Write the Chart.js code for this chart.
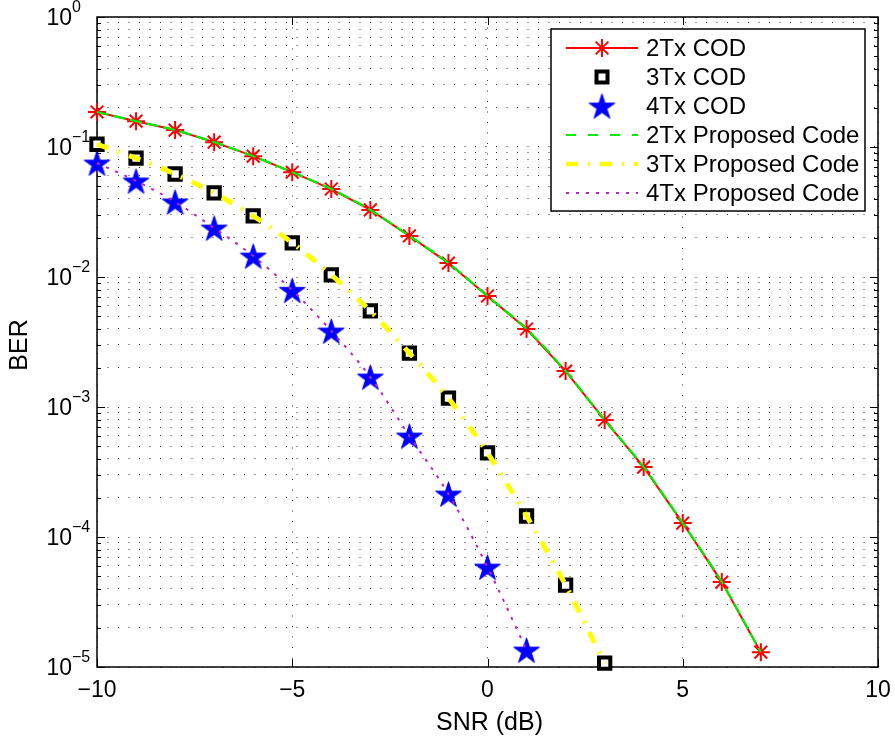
<!DOCTYPE html>
<html>
<head>
<meta charset="utf-8">
<script src="https://cdn.jsdelivr.net/npm/chart.js"></script>
<style>
  body { margin: 0; background: #fff; }
  #wrap { width: 895px; height: 745px; }
</style>
</head>
<body>
<div id="wrap"><canvas id="berChart" width="895" height="745"></canvas></div>
<script>
// values
const snr2 = [-10, -9, -8, -7, -6, -5, -4, -3, -2, -1, 0, 1, 2, 3, 4, 5, 6, 7];
const ber2 = [0.186, 0.158, 0.135, 0.109, 0.085, 0.064, 0.0475, 0.0328, 0.0207, 0.0128,
              0.00714, 0.00398, 0.00189, 0.000794, 0.000345, 0.000128, 4.5e-5, 1.3e-5];
const snr3 = [-10, -9, -8, -7, -6, -5, -4, -3, -2, -1, 0, 1, 2, 3];
const ber3 = [0.105, 0.082, 0.062, 0.0443, 0.0295, 0.0183, 0.0104, 0.00548, 0.0026,
              0.00117, 0.000443, 0.000145, 4.27e-5, 1.07e-5];
const snr4 = [-10, -9, -8, -7, -6, -5, -4, -3, -2, -1, 0, 1];
const ber4 = [0.0753, 0.0548, 0.0378, 0.0238, 0.0145, 0.0079, 0.00384, 0.0017,
              0.000598, 0.000214, 5.87e-5, 1.35e-5];

const legendNames = ["2Tx COD", "3Tx COD", "4Tx COD",
                     "2Tx Proposed Code", "3Tx Proposed Code", "4Tx Proposed Code"];
const xTicks = [-10, -5, 0, 5, 10];
const yDecades = [0, -1, -2, -3, -4, -5];

const FONT = '"Liberation Sans", Arial, Helvetica, sans-serif';

function pts(xs, ys) {
  return xs.map((x, i) => ({ x: x, y: ys[i] }));
}

// filled pentagram marker
function makeStar(r) {
  const c = document.createElement('canvas');
  const s = Math.ceil(r * 2 + 4);
  c.width = s; c.height = s;
  const g = c.getContext('2d');
  const cx = s / 2, cy = s / 2 + r * 0.1;
  const ri = r * 0.382;
  g.beginPath();
  for (let i = 0; i < 10; i++) {
    const a = -Math.PI / 2 + i * Math.PI / 5;
    const rr = i % 2 === 0 ? r : ri;
    const px = cx + rr * Math.cos(a), py = cy + rr * Math.sin(a);
    if (i === 0) g.moveTo(px, py); else g.lineTo(px, py);
  }
  g.closePath();
  g.fillStyle = '#0000ff';
  g.fill();
  g.strokeStyle = '#0000ff';
  g.lineWidth = 1;
  g.stroke();
  return c;
}
const starImg = makeStar(13.5);

function drawAsterisk(ctx, x, y, r) {
  const d = r * Math.SQRT1_2;
  ctx.beginPath();
  ctx.moveTo(x, y - r); ctx.lineTo(x, y + r);
  ctx.moveTo(x - r, y); ctx.lineTo(x + r, y);
  ctx.moveTo(x - d, y - d); ctx.lineTo(x + d, y + d);
  ctx.moveTo(x - d, y + d); ctx.lineTo(x + d, y - d);
  ctx.stroke();
}

const yTickValues = [];
for (let e = -5; e <= 0; e++) {
  for (let m = 1; m <= 9; m++) {
    const v = m * Math.pow(10, e);
    if (v <= 1.0000001) yTickValues.push({ value: v, major: m === 1 });
  }
}

const frame = {
  id: 'frame',
  beforeDatasetsDraw(chart) {
    const ctx = chart.ctx;
    const a = chart.chartArea;
    const xs = chart.scales.x, ys = chart.scales.y;
    ctx.save();
    ctx.strokeStyle = '#000';
    ctx.lineWidth = 1.5;
    ctx.strokeRect(a.left, a.top, a.right - a.left, a.bottom - a.top);
    ctx.lineWidth = 1;
    ctx.beginPath();
    xTicks.forEach(v => {
      const px = Math.round(xs.getPixelForValue(v)) + 0.5;
      ctx.moveTo(px, a.bottom); ctx.lineTo(px, a.bottom - 8);
      ctx.moveTo(px, a.top); ctx.lineTo(px, a.top + 8);
    });
    yTickValues.forEach(t => {
      const py = Math.round(ys.getPixelForValue(t.value)) + 0.5;
      const len = t.major ? 8 : 4;
      ctx.moveTo(a.left, py); ctx.lineTo(a.left + len, py);
      ctx.moveTo(a.right, py); ctx.lineTo(a.right - len, py);
    });
    ctx.stroke();

    // y tick labels 10^n
    ctx.fillStyle = '#000';
    yDecades.forEach(e => {
      const py = ys.getPixelForValue(Math.pow(10, e));
      ctx.font = '23px ' + FONT;
      ctx.textAlign = 'right';
      ctx.textBaseline = 'middle';
      ctx.fillText('10', 72, py + 2);
      ctx.font = '16px ' + FONT;
      ctx.textAlign = 'left';
      const ex = e === 0 ? '0' : '\u2212' + Math.abs(e);
      ctx.fillText(ex, 72, py - 9);
    });

    // axis titles
    ctx.font = '25px ' + FONT;
    ctx.textAlign = 'center';
    ctx.textBaseline = 'middle';
    ctx.fillText('SNR (dB)', (a.left + a.right) / 2 + 2, 723);
    ctx.save();
    ctx.translate(20, (a.top + a.bottom) / 2 + 3);
    ctx.rotate(-Math.PI / 2);
    ctx.fillText('BER', 0, 0);
    ctx.restore();
    ctx.restore();
  },
  afterDraw(chart) {
    const ctx = chart.ctx;
    const bx = 551, by = 29, bw = 314, bh = 182;
    ctx.save();
    ctx.fillStyle = '#fff';
    ctx.fillRect(bx, by, bw, bh);
    ctx.strokeStyle = '#000';
    ctx.lineWidth = 1.5;
    ctx.strokeRect(bx, by, bw, bh);
    const rows = [48, 77, 106, 135, 164, 193];
    const x1 = 566, x2 = 638, xm = 602;
    // 2Tx COD
    ctx.strokeStyle = '#ff0000'; ctx.lineWidth = 2;
    ctx.beginPath(); ctx.moveTo(x1, rows[0]); ctx.lineTo(x2, rows[0]); ctx.stroke();
    drawAsterisk(ctx, xm, rows[0], 9);
    // 3Tx COD
    ctx.fillStyle = '#fff'; ctx.strokeStyle = '#000'; ctx.lineWidth = 4;
    ctx.fillRect(xm - 5.5, rows[1] - 5.5, 11, 11);
    ctx.strokeRect(xm - 5.5, rows[1] - 5.5, 11, 11);
    // 4Tx COD
    ctx.drawImage(starImg, xm - starImg.width / 2, rows[2] - starImg.height / 2);
    // proposed
    const lineRow = (y, color, w, dash) => {
      ctx.strokeStyle = color; ctx.lineWidth = w; ctx.setLineDash(dash);
      ctx.beginPath(); ctx.moveTo(x1, y); ctx.lineTo(x2, y); ctx.stroke();
      ctx.setLineDash([]);
    };
    lineRow(rows[3], '#00ee00', 2, [10, 12]);
    lineRow(rows[4], '#ffff00', 4.5, [12, 10, 2, 10]);
    lineRow(rows[5], '#c020c8', 2, [3, 7]);
    ctx.fillStyle = '#000';
    ctx.font = '24px ' + FONT;
    ctx.textAlign = 'left';
    ctx.textBaseline = 'middle';
    legendNames.forEach((n, i) => ctx.fillText(n, 646, rows[i] + 1));
    ctx.restore();
  }
};

new Chart('berChart', {
  type: 'scatter',
  data: {
    datasets: [
      {
        label: legendNames[0], data: pts(snr2, ber2), showLine: true,
        borderColor: '#ff0000', borderWidth: 2, backgroundColor: '#ff0000',
        pointStyle: 'star', pointRadius: 9, pointBorderWidth: 2,
        pointBorderColor: '#ff0000', order: 1, clip: false
      },
      {
        label: legendNames[1], data: pts(snr3, ber3), showLine: false,
        pointStyle: 'rect', pointRadius: 8, pointBorderWidth: 4,
        pointBorderColor: '#000', pointBackgroundColor: '#fff', order: 1, clip: false
      },
      {
        label: legendNames[2], data: pts(snr4, ber4), showLine: false,
        pointStyle: starImg, pointRadius: 13, order: 1, clip: false
      },
      {
        label: legendNames[3], data: pts(snr2, ber2), showLine: true,
        borderColor: '#00ee00', borderWidth: 2.2, borderDash: [12, 5],
        cubicInterpolationMode: 'monotone', pointRadius: 0, order: 0, clip: false
      },
      {
        label: legendNames[4], data: pts(snr3, ber3), showLine: true,
        borderColor: '#ffff00', borderWidth: 5, borderDash: [12, 10, 2, 10],
        cubicInterpolationMode: 'monotone', pointRadius: 0, order: 0, clip: false
      },
      {
        label: legendNames[5], data: pts(snr4, ber4), showLine: true,
        borderColor: '#c020c8', borderWidth: 2, borderDash: [3, 7],
        cubicInterpolationMode: 'monotone', pointRadius: 0, order: 0, clip: false
      }
    ]
  },
  options: {
    responsive: false,
    animation: false,
    events: [],
    layout: { padding: { left: 0, top: 17, right: 17, bottom: 0 } },
    plugins: { legend: { display: false }, tooltip: { enabled: false } },
    scales: {
      x: {
        type: 'linear', min: -10, max: 10,
        afterFit: s => { s.height = 78; s.paddingLeft = 0; s.paddingRight = 0; },
        afterBuildTicks: s => { s.ticks = xTicks.map(v => ({ value: v })); },
        grid: { color: 'rgba(0,0,0,0.8)', lineWidth: 1, drawTicks: false },
        border: { display: false, dash: [1, 9.5] },
        ticks: {
          color: '#000', padding: 10,
          font: { size: 23, family: FONT },
          maxRotation: 0, autoSkip: false,
          callback: v => v < 0 ? '\u2212' + Math.abs(v) : String(v)
        }
      },
      y: {
        type: 'logarithmic', min: 1e-5, max: 1,
        afterFit: s => { s.width = 97; s.paddingTop = 0; s.paddingBottom = 0; },
        afterBuildTicks: s => { s.ticks = yTickValues.map(t => ({ value: t.value })); },
        grid: { color: 'rgba(0,0,0,0.8)', lineWidth: 1, drawTicks: false },
        border: { display: false, dash: [1, 9.5] },
        ticks: { display: false }
      }
    }
  },
  plugins: [frame]
});
</script>
</body>
</html>
